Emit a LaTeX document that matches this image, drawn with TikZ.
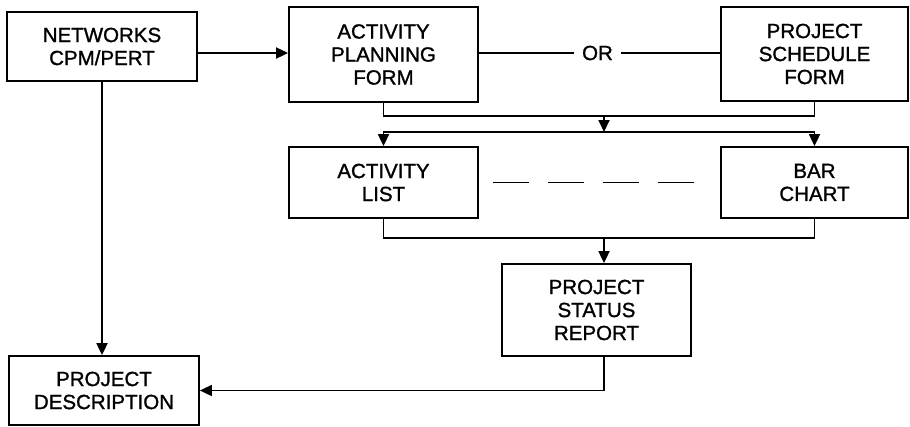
\documentclass[tikz,border=0pt]{standalone}
\usepackage{fontspec}
\setmainfont{Liberation Sans}
\newfontfamily\labelfont{Liberation Sans}[FakeBold=1.2]
\usetikzlibrary{arrows.meta}

\tikzset{
  box/.style={draw, line width=1.8pt, align=center, inner sep=0pt,
              font=\labelfont\fontsize{20.5}{23}\selectfont},
  link/.style={line width=1.8pt},
  arrowlink/.style={link, -{Triangle[length=12pt,width=11pt]}},
  lbl/.style={font=\labelfont\fontsize{20.5}{23}\selectfont, inner xsep=8pt, inner ysep=0pt},
}

\begin{document}
\begin{tikzpicture}[x=1pt, y=-1pt]
  \fill[white] (0,0) rectangle (910,426);
  \useasboundingbox (0,0) rectangle (910,426);

  % boxes
  \node[box, minimum width=190pt, minimum height=69pt] (net) at (102,46.5) {NETWORKS\\CPM/PERT};
  \node[box, minimum width=189pt, minimum height=95pt] (apf) at (383.5,54.5) {ACTIVITY\\PLANNING\\FORM};
  \node[box, minimum width=187pt, minimum height=94pt] (psf) at (814.5,54) {PROJECT\\SCHEDULE\\FORM};
  \node[box, minimum width=189pt, minimum height=71pt] (al) at (383.5,182.5) {ACTIVITY\\LIST};
  \node[box, minimum width=187pt, minimum height=71pt] (bc) at (814.5,182.5) {BAR\\CHART};
  \node[box, minimum width=189pt, minimum height=92pt] (psr) at (596.5,310) {PROJECT\\STATUS\\REPORT};
  \node[box, minimum width=190pt, minimum height=69pt] (pd) at (104,390.5) {PROJECT\\DESCRIPTION};

  % alternative label between the two forms
  \node[lbl] (or) at (597.5,53) {OR};
  \draw[link] (apf.east |- or) -- (or.west);
  \draw[link] (or.east) -- (psf.west |- or);

  % junction points
  \coordinate (j1) at (604,116);
  \coordinate (j2) at (604,132);
  \coordinate (j3) at (604,238);

  % networks feed the planning form and the description
  \draw[arrowlink] (net.east |- 0,53) -- (apf.west |- 0,53);
  \draw[arrowlink] (net.south) -- (net.south |- pd.north);

  % forms merge, then split to list and chart
  \draw[link] (apf.south) |- (j1) -| (psf.south);
  \draw[arrowlink] (j1) -- (j2);
  \draw[arrowlink] (j2) -| (al.north);
  \draw[arrowlink] (j2) -| (bc.north);

  % list and chart are equivalent
  \draw[link, dash pattern=on 36pt off 19pt] ([xshift=14pt]al.east) -- ([xshift=-25pt]bc.west);

  % list and chart merge into the status report
  \draw[link] (al.south) |- (j3) -| (bc.south);
  \draw[arrowlink] (j3) -- (j3 |- psr.north);

  % status report back to the description
  \draw[arrowlink] (j3 |- psr.south) |- (pd.east);
\end{tikzpicture}
\end{document}
